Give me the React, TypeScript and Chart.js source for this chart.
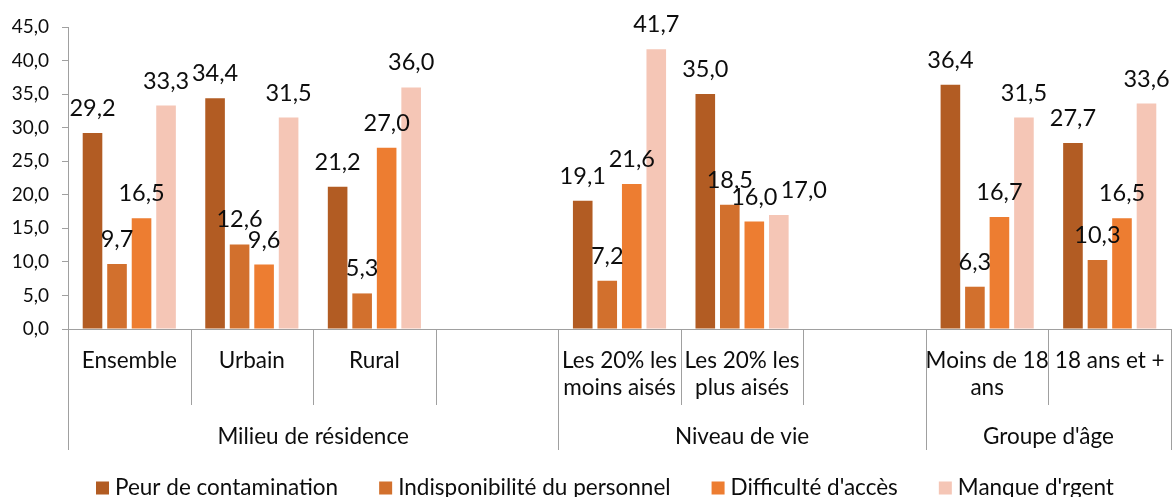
import React, { useEffect, useRef } from "react";
import { Chart, registerables } from "chart.js";

Chart.register(...registerables);

const categories = [
  "Ensemble",
  "Urbain",
  "Rural",
  "",
  "Les 20% les moins aisés",
  "Les 20% les plus aisés",
  "",
  "Moins de 18 ans",
  "18 ans et +",
];
const categoryLines = [
  ["Ensemble"],
  ["Urbain"],
  ["Rural"],
  [],
  ["Les 20% les", "moins aisés"],
  ["Les 20% les", "plus aisés"],
  [],
  ["Moins de 18", "ans"],
  ["18 ans et +"],
];
const groupLabels = ["Milieu de résidence", "Niveau de vie", "Groupe d'âge"];
const groupStarts = [0, 4, 7];
const groupEnds = [4, 7, 9];

const seriesNames = [
  "Peur de contamination",
  "Indisponibilité du personnel",
  "Difficulté d'accès",
  "Manque d'rgent",
];
const peur = [29.2, 34.4, 21.2, null, 19.1, 35.0, null, 36.4, 27.7];
const indisponibilite = [9.7, 12.6, 5.3, null, 7.2, 18.5, null, 6.3, 10.3];
const difficulte = [16.5, 9.6, 27.0, null, 21.6, 16.0, null, 16.7, 16.5];
const manque = [33.3, 31.5, 36.0, null, 41.7, 17.0, null, 31.5, 33.6];
const seriesColors = ["#B25C23", "#D2702D", "#ED7D31", "#F5C6B6"];

const yMin = 0;
const yMax = 45;
const yStep = 5;

const FONT = "Lato, 'Open Sans', sans-serif";
const AXIS_COLOR = "#a0a0a0";
const TEXT_COLOR = "#0d0d0d";

const fmt = (v: number) => v.toFixed(1).replace(".", ",");

const annotatePlugin = {
  id: "annotate",
  afterDraw(chart: any) {
    const ctx = chart.ctx as CanvasRenderingContext2D;
    const xs = chart.scales.x;
    const area = chart.chartArea;
    const n = categories.length;
    const catW = (xs.right - xs.left) / n;
    const bnd = (i: number) => xs.left + i * catW;

    ctx.save();
    // divider lines
    ctx.strokeStyle = AXIS_COLOR;
    ctx.lineWidth = 1;
    for (let i = 0; i <= n; i++) {
      const isGroup = groupStarts.includes(i) || i === n;
      const x = Math.round(bnd(i)) + 0.5;
      ctx.beginPath();
      ctx.moveTo(x, area.bottom);
      ctx.lineTo(x, isGroup ? area.bottom + 121 : area.bottom + 76);
      ctx.stroke();
    }

    // category labels
    ctx.fillStyle = TEXT_COLOR;
    ctx.textAlign = "center";
    ctx.textBaseline = "middle";
    ctx.font = `22.5px ${FONT}`;
    categoryLines.forEach((lines, i) => {
      const cx = bnd(i) + catW / 2;
      lines.forEach((ln, j) => {
        ctx.fillText(ln, cx, area.bottom + 32 + j * 27);
      });
    });

    // group labels
    groupLabels.forEach((g, k) => {
      const cx = (bnd(groupStarts[k]) + bnd(groupEnds[k])) / 2;
      ctx.fillText(g, cx, area.bottom + 108);
    });

    // data labels
    ctx.font = `23.5px ${FONT}`;
    ctx.textBaseline = "alphabetic";
    chart.data.datasets.forEach((ds: any, di: number) => {
      const meta = chart.getDatasetMeta(di);
      meta.data.forEach((el: any, i: number) => {
        const v = ds.data[i];
        if (v === null || v === undefined) return;
        let dx = 0;
        if (di === 3 && i === 5) dx = 25;
        ctx.fillText(fmt(v), el.x + dx, el.y - 17);
      });
    });

    // legend
    ctx.font = `22.5px ${FONT}`;
    ctx.textAlign = "left";
    ctx.textBaseline = "middle";
    let lx = 96;
    const ly = 488;
    chart.data.datasets.forEach((ds: any) => {
      ctx.fillStyle = ds.backgroundColor;
      ctx.fillRect(lx, ly - 6.5, 13, 13);
      ctx.fillStyle = TEXT_COLOR;
      ctx.fillText(ds.label, lx + 19, ly);
      lx += 19 + ctx.measureText(ds.label).width + 41;
    });
    ctx.restore();
  },
};

export default function App() {
  const canvasRef = useRef<HTMLCanvasElement | null>(null);

  useEffect(() => {
    document.body.style.margin = "0";
    const canvas = canvasRef.current;
    if (!canvas) return;
    const seriesData = [peur, indisponibilite, difficulte, manque];
    const chart = new Chart(canvas, {
      type: "bar",
      data: {
        labels: categories,
        datasets: seriesNames.map((name, i) => ({
          label: name,
          data: seriesData[i],
          backgroundColor: seriesColors[i],
          borderWidth: 0,
          barPercentage: 0.8,
          categoryPercentage: 0.8,
        })),
      },
      options: {
        responsive: false,
        animation: false,
        devicePixelRatio: 1,
        layout: { padding: { left: 0, right: 5, top: 27, bottom: 0 } },
        plugins: {
          legend: { display: false },
          tooltip: { enabled: false },
        },
        scales: {
          x: {
            type: "category",
            grid: { display: false },
            border: { display: true, color: AXIS_COLOR, width: 1 },
            ticks: { display: false },
            afterFit: (s: any) => {
              s.height = 168;
            },
          },
          y: {
            min: yMin,
            max: yMax,
            border: { display: true, color: AXIS_COLOR, width: 1 },
            grid: {
              display: true,
              drawOnChartArea: false,
              drawTicks: true,
              tickLength: 6,
              color: AXIS_COLOR,
            },
            ticks: {
              stepSize: yStep,
              padding: 13,
              color: TEXT_COLOR,
              font: { family: FONT, size: 19 },
              callback: (v: any) => fmt(Number(v)),
            },
            afterFit: (s: any) => {
              s.width = 68;
            },
          },
        },
      },
      plugins: [annotatePlugin],
    });
    return () => chart.destroy();
  }, []);

  return (
    <div style={{ position: "absolute", left: 0, top: 0, width: 1176, height: 497 }}>
      <canvas ref={canvasRef} width={1176} height={497} />
    </div>
  );
}
